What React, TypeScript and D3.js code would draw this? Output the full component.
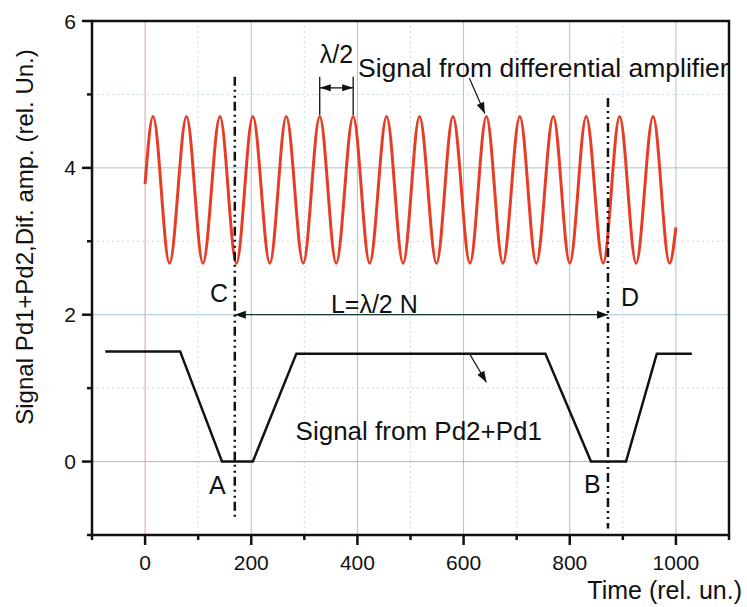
import React from 'react';
import * as d3 from 'd3';

// red signal (differential amplifier): start, alternating peaks / troughs, end
const redTime = [0, 15, 46, 78, 109, 141, 172, 203, 235, 266, 298, 329, 360, 392, 423, 455, 486,
  517, 549, 580, 612, 643, 674, 706, 737, 769, 800, 831, 863, 894, 925, 957, 988, 1000];
const redValue = [3.78, 4.7, 2.7, 4.7, 2.7, 4.7, 2.7, 4.7, 2.7, 4.7, 2.7, 4.7, 2.7, 4.7, 2.7, 4.7, 2.7,
  4.7, 2.7, 4.7, 2.7, 4.7, 2.7, 4.7, 2.7, 4.7, 2.7, 4.7, 2.7, 4.7, 2.7, 4.7, 2.7, 3.19];

// black signal Pd2+Pd1
const blackTime = [-75, 66, 145, 203, 285, 754, 840, 906, 964, 1030];
const blackValue = [1.5, 1.5, 0, 0, 1.47, 1.47, 0, 0, 1.47, 1.47];

const xMajor = [0, 200, 400, 600, 800, 1000];
const xMinor = [-100, 100, 300, 500, 700, 900, 1100];
const yMajor = [0, 2, 4, 6];
const yMinor = [-1, 1, 3, 5];

// dash-dot markers C/A and D/B: [time, from, to]
const markerLines = [
  [169, 5.24, -0.76],
  [872, 4.95, -0.91],
];

const FONT = '"Liberation Sans", Arial, sans-serif';

const W = 747;
const H = 607;

const arrowHead = (x1: number, y1: number, x2: number, y2: number, len = 11, half = 4) => {
  const a = Math.atan2(y2 - y1, x2 - x1);
  const bx = x2 - len * Math.cos(a);
  const by = y2 - len * Math.sin(a);
  const px = -Math.sin(a) * half;
  const py = Math.cos(a) * half;
  return `M${x2},${y2}L${bx + px},${by + py}L${bx - px},${by - py}Z`;
};

export default function App() {
  const x = d3.scaleLinear().domain([-100, 1100]).range([92, 729]);
  const y = d3.scaleLinear().domain([-1, 6]).range([535, 21]);

  const redLine = d3.line<number>()
    .x((d, i) => x(redTime[i]))
    .y((d) => y(d))
    .curve(d3.curveMonotoneX);
  const blackLine = d3.line<number>()
    .x((d, i) => x(blackTime[i]))
    .y((d) => y(d));

  const zeroGrid = '#dba3a3';
  const majorGrid = '#a6c3d3';
  const minorGrid = '#c9dce8';

  // L arrow
  const lx1 = x(169);
  const lx2 = x(872);
  const ly = y(2);
  // lambda/2 arrow
  const hx1 = x(329);
  const hx2 = x(392);
  const hy = y(5.09);
  // pointer arrows
  const r1 = [x(611), y(5.22)];
  const r2 = [x(640), y(4.74)];
  const b1 = [x(611), y(1.47)];
  const b2 = [x(643), y(1.08)];

  return (
    <svg width={W} height={H} style={{ position: 'absolute', left: 0, top: 0, background: '#fff' }}>
      {/* grid */}
      {xMinor.filter((v) => v > -100 && v < 1100).map((v) => (
        <line key={`xm${v}`} x1={x(v)} x2={x(v)} y1={y(6)} y2={y(-1)} stroke={minorGrid} strokeWidth={1} strokeDasharray="2,3" />
      ))}
      {yMinor.filter((v) => v > -1).map((v) => (
        <line key={`ym${v}`} x1={x(-100)} x2={x(1100)} y1={y(v)} y2={y(v)} stroke={minorGrid} strokeWidth={1} strokeDasharray="2,3" />
      ))}
      {xMajor.map((v) => (
        <line key={`xg${v}`} x1={x(v)} x2={x(v)} y1={y(6)} y2={y(-1)} stroke={v === 0 ? zeroGrid : majorGrid} strokeWidth={1} />
      ))}
      {yMajor.filter((v) => v < 6).map((v) => (
        <line key={`yg${v}`} x1={x(-100)} x2={x(1100)} y1={y(v)} y2={y(v)} stroke={v === 0 ? zeroGrid : majorGrid} strokeWidth={1} />
      ))}

      {/* signals */}
      <path d={redLine(redValue) || ''} fill="none" stroke="#e63e26" strokeWidth={3} />
      <path d={blackLine(blackValue) || ''} fill="none" stroke="#111" strokeWidth={2.5} />

      {/* dash-dot marker lines */}
      {markerLines.map(([t, a, b]) => (
        <line key={`ml${t}`} x1={x(t)} x2={x(t)} y1={y(a)} y2={y(b)} stroke="#111" strokeWidth={2.5} strokeDasharray="9,4,2,4,2,4" />
      ))}

      {/* L = lambda/2 N arrow */}
      <line x1={lx1} x2={lx2} y1={ly} y2={ly} stroke="#1a3a3a" strokeWidth={1.3} />
      <path d={arrowHead(lx2, ly, lx1, ly)} fill="#111" />
      <path d={arrowHead(lx1, ly, lx2, ly)} fill="#111" />
      <text x={x(350)} y={ly - 2} fontFamily={FONT} fontSize={25} fill="#111">L=λ/2 N</text>

      {/* lambda/2 marker */}
      <line x1={hx1} x2={hx1} y1={y(5.24)} y2={y(4.72)} stroke="#111" strokeWidth={1.3} />
      <line x1={hx2} x2={hx2} y1={y(5.24)} y2={y(4.72)} stroke="#111" strokeWidth={1.3} />
      <line x1={hx1} x2={hx2} y1={hy} y2={hy} stroke="#111" strokeWidth={1.3} />
      <path d={arrowHead(hx2, hy, hx1, hy, 11, 3.5)} fill="#111" />
      <path d={arrowHead(hx1, hy, hx2, hy, 11, 3.5)} fill="#111" />
      <text x={(hx1 + hx2) / 2} y={63} textAnchor="middle" fontFamily={FONT} fontSize={25} fill="#111">λ/2</text>

      {/* pointer arrows */}
      <line x1={r1[0]} y1={r1[1]} x2={r2[0]} y2={r2[1]} stroke="#111" strokeWidth={1.2} />
      <path d={arrowHead(r1[0], r1[1], r2[0], r2[1], 11, 4)} fill="#111" />
      <line x1={b1[0]} y1={b1[1]} x2={b2[0]} y2={b2[1]} stroke="#111" strokeWidth={1.2} />
      <path d={arrowHead(b1[0], b1[1], b2[0], b2[1], 11, 4)} fill="#111" />

      {/* annotations */}
      <text x={358} y={77} fontFamily={FONT} fontSize={26.5} fill="#111">Signal from differential amplifier</text>
      <text x={542} y={440} textAnchor="end" fontFamily={FONT} fontSize={26} fill="#111">Signal from Pd2+Pd1</text>
      <text x={210} y={302} fontFamily={FONT} fontSize={25} fill="#111">C</text>
      <text x={621} y={306} fontFamily={FONT} fontSize={25} fill="#111">D</text>
      <text x={209} y={494} fontFamily={FONT} fontSize={25} fill="#111">A</text>
      <text x={584} y={493} fontFamily={FONT} fontSize={25} fill="#111">B</text>

      {/* frame */}
      <rect x={x(-100)} y={y(6)} width={x(1100) - x(-100)} height={y(-1) - y(6)} fill="none" stroke="#111" strokeWidth={2.5} />

      {/* x axis ticks */}
      {xMajor.map((v) => (
        <g key={`xt${v}`}>
          <line x1={x(v)} x2={x(v)} y1={y(-1)} y2={y(-1) + 10} stroke="#111" strokeWidth={2.5} />
          <text x={x(v)} y={570} textAnchor="middle" fontFamily={FONT} fontSize={21} fill="#111">{v}</text>
        </g>
      ))}
      {xMinor.map((v) => (
        <line key={`xmt${v}`} x1={x(v)} x2={x(v)} y1={y(-1)} y2={y(-1) + 5} stroke="#111" strokeWidth={2.5} />
      ))}

      {/* y axis ticks */}
      {yMajor.map((v) => (
        <g key={`yt${v}`}>
          <line x1={x(-100)} x2={x(-100) - 10} y1={y(v)} y2={y(v)} stroke="#111" strokeWidth={2.5} />
          <text x={76} y={y(v)} dy="0.36em" textAnchor="end" fontFamily={FONT} fontSize={21} fill="#111">{v}</text>
        </g>
      ))}
      {yMinor.map((v) => (
        <line key={`ymt${v}`} x1={x(-100)} x2={x(-100) - 5} y1={y(v)} y2={y(v)} stroke="#111" strokeWidth={2.5} />
      ))}

      {/* axis titles */}
      <text x={742} y={599} textAnchor="end" fontFamily={FONT} fontSize={25} fill="#111">Time (rel. un.)</text>
      <text transform="translate(33,237) rotate(-90)" textAnchor="middle" fontFamily={FONT} fontSize={24} fill="#111">
        Signal Pd1+Pd2,Dif. amp. (rel. Un.)
      </text>
    </svg>
  );
}
